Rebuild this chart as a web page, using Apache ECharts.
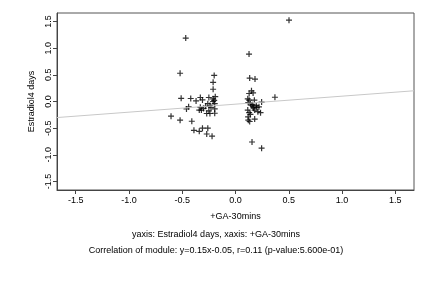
<!DOCTYPE html>
<html>
<head>
<meta charset="utf-8">
<script src="https://cdn.jsdelivr.net/npm/echarts@6/dist/echarts.min.js"></script>
<style>
html, body { margin: 0; padding: 0; background: #fff; }
#main { width: 432px; height: 288px; }
</style>
</head>
<body>
<div id="main"></div>
<script>
// values
var xVals = [0.502, -0.467, 0.127, -0.52, -0.2, 0.133, 0.183, -0.21, -0.21, 0.15,
	0.165, 0.128, -0.19, -0.33, -0.25, -0.51, 0.37, -0.21, -0.31, -0.37,
	-0.21, 0.115, 0.128, 0.177, -0.195, -0.26, 0.14, 0.245, 0.15, -0.24,
	-0.44, 0.195, 0.165, 0.2, -0.33, -0.23, -0.3, -0.46, -0.195, 0.22,
	0.17, -0.32, -0.34, 0.115, -0.25, 0.18, 0.21, 0.128, 0.235, -0.27,
	-0.195, -0.24, 0.14, 0.118, -0.605, 0.18, -0.52, 0.12, 0.133, -0.41,
	-0.39, -0.31, -0.26, -0.34, -0.27, -0.22, 0.155, 0.245, -0.42, -0.2,
	0.12, 0.16, -0.28];
var yVals = [1.525, 1.19, 0.89, 0.53, 0.49, 0.44, 0.42, 0.36, 0.23, 0.2,
	0.16, 0.15, 0.09, 0.075, 0.075, 0.06, 0.08, 0.05, 0.03, 0.01,
	0.0, 0.05, 0.025, 0.025, -0.04, -0.04, -0.04, -0.01, -0.07, -0.075,
	-0.1, -0.075, -0.1, -0.11, -0.11, -0.11, -0.13, -0.14, -0.14, -0.1,
	-0.125, -0.16, -0.16, -0.16, -0.175, -0.16, -0.19, -0.21, -0.21, -0.225,
	-0.22, -0.225, -0.24, -0.29, -0.275, -0.33, -0.35, -0.35, -0.375, -0.37,
	-0.54, -0.5, -0.5, -0.56, -0.61, -0.65, -0.76, -0.875, 0.056, 0.02,
	-0.02, -0.06, -0.09];
var slope = 0.15, intercept = -0.05;
var tickVals = [-1.5, -1.0, -0.5, 0.0, 0.5, 1.0, 1.5];
var xMin = -1.675, xMax = 1.675, yMin = -1.66, yMax = 1.66;

var points = [];
for (var i = 0; i < xVals.length; i++) points.push([xVals[i], yVals[i]]);

var fnt = 'Liberation Sans';
var plusPath = 'path://M4,0H6V4H10V6H6V10H4V6H0V4H4Z';

var chart = echarts.init(document.getElementById('main'));
var option = {
	animation: false,
	grid: { left: 57, right: 18, top: 13, bottom: 98, show: true, borderColor: '#555', borderWidth: 1 },
	xAxis: {
		type: 'value', min: xMin, max: xMax,
		name: '+GA-30mins', nameLocation: 'middle', nameGap: 22,
		nameTextStyle: { fontFamily: fnt, fontSize: 9, color: '#000' },
		axisLine: { onZero: false, lineStyle: { color: '#444' } },
		axisTick: { customValues: tickVals, length: 4, lineStyle: { color: '#444' } },
		axisLabel: { customValues: tickVals, fontFamily: fnt, fontSize: 9, color: '#000', margin: 6,
			formatter: function (v) { return v.toFixed(1); } },
		splitLine: { show: false }
	},
	yAxis: {
		type: 'value', min: yMin, max: yMax,
		name: 'Estradiol4 days', nameLocation: 'middle', nameGap: 20,
		nameTextStyle: { fontFamily: fnt, fontSize: 9, color: '#000' },
		axisLine: { onZero: false, lineStyle: { color: '#444' } },
		axisTick: { customValues: tickVals, length: 4, lineStyle: { color: '#444' } },
		axisLabel: { customValues: tickVals, rotate: 90, fontFamily: fnt, fontSize: 9, color: '#000', margin: 4,
			formatter: function (v) { return v.toFixed(1); } },
		splitLine: { show: false }
	},
	title: [{
		text: 'yaxis: Estradiol4 days, xaxis: +GA-30mins',
		left: 'center', top: 225,
		textStyle: { fontFamily: fnt, fontSize: 9, fontWeight: 'normal', color: '#000' }
	}, {
		text: 'Correlation of module: y=0.15x-0.05, r=0.11 (p-value:5.600e-01)',
		left: 'center', top: 241,
		textStyle: { fontFamily: fnt, fontSize: 9, fontWeight: 'normal', color: '#000' }
	}],
	series: [{
		type: 'line',
		data: [[xMin, slope * xMin + intercept], [xMax, slope * xMax + intercept]],
		showSymbol: false,
		lineStyle: { color: '#c8c8c8', width: 1 },
		silent: true
	}, {
		type: 'scatter',
		data: points,
		symbol: plusPath,
		symbolSize: 6,
		itemStyle: { color: '#000' }
	}]
};
chart.setOption(option);
</script>
</body>
</html>
